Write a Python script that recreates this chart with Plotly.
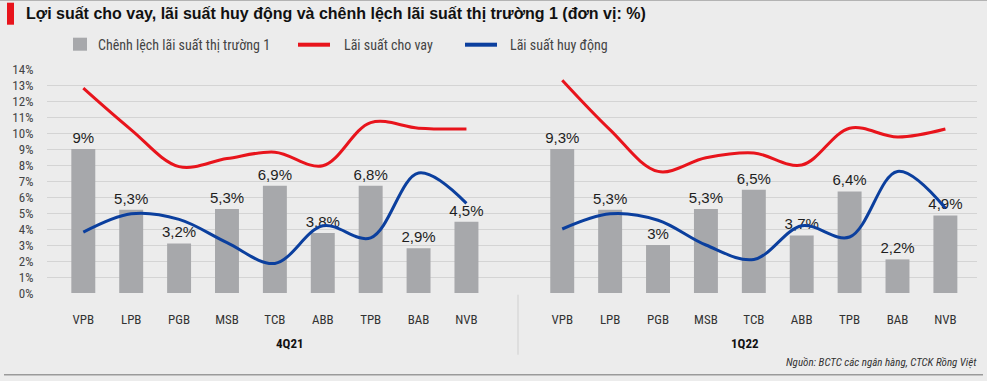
import plotly.graph_objects as go

banks = ["VPB", "LPB", "PGB", "MSB", "TCB", "ABB", "TPB", "BAB", "NVB"]
periods = ["4Q21", "1Q22"]

# Chênh lệch lãi suất thị trường 1 (bar heights and printed labels)
spread_4q21 = [9.0, 5.2, 3.1, 5.25, 6.7, 3.75, 6.7, 2.8, 4.45]
spread_4q21_labels = ["9%", "5,3%", "3,2%", "5,3%", "6,9%", "3,8%", "6,8%", "2,9%", "4,5%"]
spread_1q22 = [9.0, 5.2, 3.0, 5.25, 6.45, 3.6, 6.35, 2.1, 4.85]
spread_1q22_labels = ["9,3%", "5,3%", "3%", "5,3%", "6,5%", "3,7%", "6,4%", "2,2%", "4,9%"]

# Lãi suất cho vay
lending_4q21 = [12.8, 10.2, 7.9, 8.4, 8.8, 7.95, 10.65, 10.3, 10.25]
lending_1q22 = [13.3, 10.2, 7.6, 8.45, 8.75, 8.0, 10.3, 9.75, 10.25]

# Lãi suất huy động
deposit_4q21 = [3.8, 4.95, 4.6, 3.15, 1.85, 4.2, 3.45, 7.5, 5.6]
deposit_1q22 = [4.0, 4.95, 4.55, 3.0, 2.1, 4.2, 3.5, 7.6, 5.3]

y_ticks = list(range(0, 15))

BAR = "#a7a8ab"
RED = "#e8141c"
BLUE = "#0b3f9e"
BG = "#ececec"
FONT = "Liberation Sans Narrow, Roboto Condensed, Liberation Sans, Arial, sans-serif"
SANS = "Liberation Sans, Arial, sans-serif"

pos_a = list(range(0, 9))
pos_b = list(range(10, 19))

fig = go.Figure()
for pos, vals, labs in [(pos_a, spread_4q21, spread_4q21_labels), (pos_b, spread_1q22, spread_1q22_labels)]:
    fig.add_trace(go.Bar(x=pos, y=vals, text=labs, textposition="outside", cliponaxis=False,
                         constraintext="none",
                         marker=dict(color=BAR, line=dict(width=0)), width=0.5,
                         textfont=dict(size=15, color="#1e1e1e", family=SANS), showlegend=False))
for pos, vals in [(pos_a, lending_4q21), (pos_b, lending_1q22)]:
    fig.add_trace(go.Scatter(x=pos, y=vals, mode="lines", line=dict(color=RED, width=3, shape="spline", smoothing=1.0),
                             showlegend=False))
for pos, vals in [(pos_a, deposit_4q21), (pos_b, deposit_1q22)]:
    fig.add_trace(go.Scatter(x=pos, y=vals, mode="lines", line=dict(color=BLUE, width=3, shape="spline", smoothing=1.0),
                             showlegend=False))

W, H = 987, 381
L, R, T, B = 47, 10, 69.3, 87.7
pw = W - L - R
ph = H - T - B

def px(xp):
    return (xp - L) / pw

def py(yp):
    return (H - B - yp) / ph

shapes = []
annotations = []

# title bar
shapes.append(dict(type="rect", xref="paper", yref="paper", x0=px(7), x1=px(14), y0=py(25), y1=py(3),
                   fillcolor="#e8141c", line=dict(width=0)))
annotations.append(dict(xref="paper", yref="paper", x=px(24), y=py(14), xanchor="left", yanchor="middle",
                        text="<b>Lợi suất cho vay, lãi suất huy động và chênh lệch lãi suất thị trường 1 (đơn vị: %)</b>",
                        showarrow=False, font=dict(size=16, color="#111111", family=SANS)))
# top & bottom rules
shapes.append(dict(type="line", xref="paper", yref="paper", x0=px(0), x1=px(987), y0=py(0.5), y1=py(0.5),
                   line=dict(color="#9a9a9a", width=1)))
shapes.append(dict(type="line", xref="paper", yref="paper", x0=px(4), x1=px(983), y0=py(375), y1=py(375),
                   line=dict(color="#9a9a9a", width=1.5)))
# legend
shapes.append(dict(type="rect", xref="paper", yref="paper", x0=px(73), x1=px(87), y0=py(51), y1=py(38),
                   fillcolor=BAR, line=dict(width=0)))
annotations.append(dict(xref="paper", yref="paper", x=px(96), y=py(45), xanchor="left", yanchor="middle",
                        text="Chênh lệch lãi suất thị trường 1", showarrow=False,
                        font=dict(size=14, color="#444444", family=FONT)))
shapes.append(dict(type="line", xref="paper", yref="paper", x0=px(298), x1=px(330), y0=py(45), y1=py(45),
                   line=dict(color=RED, width=4)))
annotations.append(dict(xref="paper", yref="paper", x=px(342), y=py(45), xanchor="left", yanchor="middle",
                        text="Lãi suất cho vay", showarrow=False, font=dict(size=14, color="#444444", family=FONT)))
shapes.append(dict(type="line", xref="paper", yref="paper", x0=px(465), x1=px(497), y0=py(45), y1=py(45),
                   line=dict(color=BLUE, width=4)))
annotations.append(dict(xref="paper", yref="paper", x=px(508), y=py(45), xanchor="left", yanchor="middle",
                        text="Lãi suất huy động", showarrow=False, font=dict(size=14, color="#444444", family=FONT)))
# separator
shapes.append(dict(type="line", xref="paper", yref="paper", x0=px(518), x1=px(518), y0=py(295), y1=py(355),
                   line=dict(color="#d0d0d0", width=1)))
# group labels
annotations.append(dict(xref="paper", yref="paper", x=px(290), y=py(344), xanchor="center", yanchor="middle",
                        text="<b>" + periods[0] + "</b>", showarrow=False, font=dict(size=13, color="#111111", family=FONT)))
annotations.append(dict(xref="paper", yref="paper", x=px(745), y=py(344), xanchor="center", yanchor="middle",
                        text="<b>" + periods[1] + "</b>", showarrow=False, font=dict(size=13, color="#111111", family=FONT)))
# source
annotations.append(dict(xref="paper", yref="paper", x=px(979), y=py(363), xanchor="right", yanchor="middle",
                        text="<i>Nguồn: BCTC các ngân hàng, CTCK Rồng Việt</i>", showarrow=False,
                        font=dict(size=11, color="#333333", family=FONT)))

fig.update_layout(
    width=W, height=H, margin=dict(l=L, r=R, t=T, b=B),
    paper_bgcolor=BG, plot_bgcolor=BG, barmode="overlay",
    shapes=shapes, annotations=annotations, showlegend=False,
    xaxis=dict(range=[-0.758, 18.66], tickmode="array", tickvals=pos_a + pos_b, ticktext=banks + banks,
               showgrid=False, zeroline=False, showline=False, ticks="outside", ticklen=14,
               tickcolor="rgba(0,0,0,0)", tickfont=dict(size=13, color="#333333", family=FONT)),
    yaxis=dict(range=[0, 14], tickmode="array", tickvals=y_ticks, ticktext=[f"{v}%" for v in y_ticks],
               showgrid=True, gridcolor="#d4d4d4", gridwidth=1, zeroline=False, showline=False,
               ticks="outside", ticklen=10, tickcolor="rgba(0,0,0,0)",
               tickfont=dict(size=13, color="#444444", family=FONT)),
)

fig.write_html("out.html", config={"displayModeBar": False},
               post_script="document.body.style.margin='0';document.body.style.background='#ececec';")
